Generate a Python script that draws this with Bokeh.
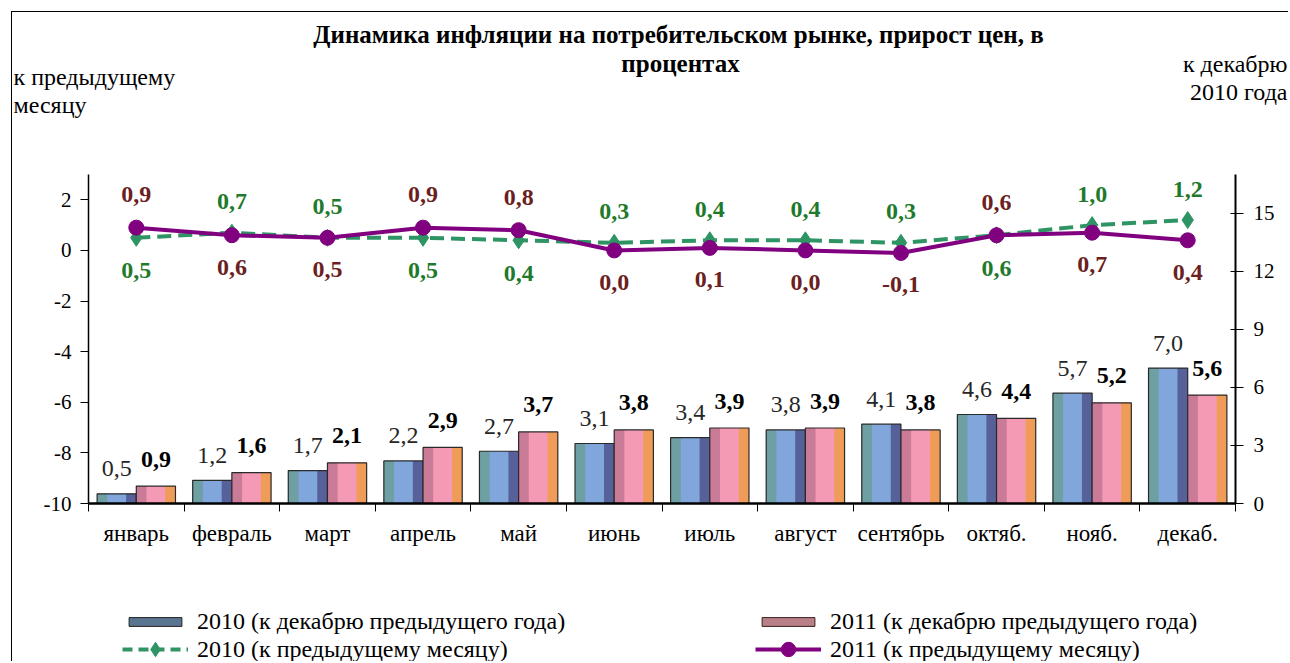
from bokeh.plotting import figure
from bokeh.layouts import column
from bokeh.models import (Range1d, LinearAxis, FixedTicker, Legend, LegendItem,
                          ColumnDataSource, CustomJSTickFormatter)
from bokeh.transform import dodge
from bokeh.core.properties import value
from bokeh.embed import file_html
from bokeh.resources import INLINE

months = ["январь", "февраль", "март", "апрель", "май", "июнь", "июль", "август",
          "сентябрь", "октяб.", "нояб.", "декаб."]
cum_2010 = [0.5, 1.2, 1.7, 2.2, 2.7, 3.1, 3.4, 3.8, 4.1, 4.6, 5.7, 7.0]
cum_2011 = [0.9, 1.6, 2.1, 2.9, 3.7, 3.8, 3.9, 3.9, 3.8, 4.4, 5.2, 5.6]
mom_2010 = [0.5, 0.7, 0.5, 0.5, 0.4, 0.3, 0.4, 0.4, 0.3, 0.6, 1.0, 1.2]
mom_2011 = [0.9, 0.6, 0.5, 0.9, 0.8, 0.0, 0.1, 0.0, -0.1, 0.6, 0.7, 0.4]
left_ticks = [-10, -8, -6, -4, -2, 0, 2]
right_ticks = [0, 3, 6, 9, 12, 15]
side_2010 = ["below", "above", "above", "below", "below", "above", "above", "above",
             "above", "below", "above", "above"]
side_2011 = ["above", "below", "below", "above", "above", "below", "below", "below",
             "below", "above", "below", "below"]
title_lines = ["Динамика инфляции на потребительском рынке, прирост цен, в", "процентах"]
left_caption = ["к предыдущему", "месяцу"]
right_caption = ["к декабрю", "2010 года"]
legend_labels = ["2010 (к декабрю предыдущего года)", "2011 (к декабрю предыдущего года)",
                 "2010 (к предыдущему месяцу)", "2011 (к предыдущему месяцу)"]

SERIF = "Liberation Serif"
GREEN = "#2e9464"
PURPLE = "#800080"
CW = 1276  # content width


def fmt(v):
    return f"{v:.1f}".replace(".", ",")


def blank_fig(h):
    f = figure(width=CW, height=h, x_range=Range1d(0, CW), y_range=Range1d(h, 0),
               x_axis_type=None, y_axis_type=None, min_border=0,
               toolbar_location=None, output_backend="svg")
    f.frame_align = False
    f.outline_line_color = None
    f.background_fill_color = "white"
    f.border_fill_color = "white"
    return f


# ---------------- header -----------------
header = blank_fig(120)
header.text(x=[666, 668], y=[22, 51], text=title_lines, text_align="center",
            text_baseline="middle", text_font=value(SERIF), text_font_size="25px",
            text_font_style="bold", text_color="black")
header.text(x=[1, 1], y=[64, 92], text=left_caption, text_align="left",
            text_baseline="middle", text_font=value(SERIF), text_font_size="24px",
            text_color="black")
header.text(x=[1275, 1275], y=[51, 79], text=right_caption, text_align="right",
            text_baseline="middle", text_font=value(SERIF), text_font_size="24px",
            text_color="black")

# ---------------- main chart -----------------
centers = [i + 0.5 for i in range(len(months))]
src = ColumnDataSource(dict(
    x=centers,
    c10=cum_2010, c11=cum_2011,
    m10=mom_2010, m11=mom_2011,
    t_c10=[fmt(v) for v in cum_2010], t_c11=[fmt(v) for v in cum_2011],
    t_m10=[fmt(v) for v in mom_2010], t_m11=[fmt(v) for v in mom_2011],
    o_m10=[-31 if s == "above" else 33 for s in side_2010],
    o_m11=[-33 if s == "above" else 32 for s in side_2011],
))

p = figure(width=CW, height=428, x_range=Range1d(0, 12), y_range=Range1d(-10, 3),
           output_backend="svg", toolbar_location=None,
           min_border_left=76, min_border_top=42, min_border_right=53, min_border_bottom=57)
p.outline_line_color = None
p.xgrid.visible = False
p.ygrid.visible = False
p.background_fill_color = "white"
p.border_fill_color = "white"

plain = CustomJSTickFormatter(code="return String(tick);")

ya = p.yaxis[0]
ya.ticker = FixedTicker(ticks=left_ticks, minor_ticks=[])
ya.formatter = plain
ya.major_tick_out = 8
ya.major_tick_in = 0
ya.minor_tick_out = 0
ya.axis_line_width = 1.5
ya.major_label_standoff = 9
ya.major_label_text_font = SERIF
ya.major_label_text_font_size = "21px"
ya.major_label_text_color = "black"

p.extra_y_ranges = {"cum": Range1d(0, 17)}
ra = LinearAxis(y_range_name="cum", ticker=FixedTicker(ticks=right_ticks, minor_ticks=[]),
                formatter=CustomJSTickFormatter(code="return String(tick);"))
ra.major_tick_out = 8
ra.major_tick_in = 5
ra.minor_tick_out = 0
ra.axis_line_width = 2
ra.major_label_standoff = 10
ra.major_label_text_font = SERIF
ra.major_label_text_font_size = "21px"
ra.major_label_text_color = "black"
p.add_layout(ra, "right")

xa = p.xaxis[0]
xa.ticker = FixedTicker(ticks=centers, minor_ticks=list(range(len(months) + 1)))
xa.formatter = CustomJSTickFormatter(args=dict(m=months), code="return m[Math.floor(tick)];")
xa.major_tick_out = 0
xa.major_tick_in = 0
xa.minor_tick_out = 8
xa.minor_tick_in = 0
xa.axis_line_width = 2.5
xa.major_label_standoff = 9
xa.major_label_text_font = SERIF
xa.major_label_text_font_size = "23px"
xa.major_label_text_color = "black"

W = 0.41
off10, off11 = -0.205, 0.205


def bevel_bar(field, off, center_col, left_col, right_col):
    p.vbar(x=dodge("x", off), top=field, bottom=0, width=W, source=src,
           y_range_name="cum", fill_color=center_col, line_color=None)
    p.vbar(x=dodge("x", off - W * 0.37), top=field, bottom=0, width=W * 0.26, source=src,
           y_range_name="cum", fill_color=left_col, line_color=None)
    p.vbar(x=dodge("x", off + W * 0.37), top=field, bottom=0, width=W * 0.26, source=src,
           y_range_name="cum", fill_color=right_col, line_color=None)
    p.vbar(x=dodge("x", off), top=field, bottom=0, width=W, source=src,
           y_range_name="cum", fill_color=None, line_color="#2a2a2a", line_width=1.2)


bevel_bar("c10", off10, "#80a6dc", "#6e9fa2", "#56619a")
bevel_bar("c11", off11, "#f59ab4", "#c97b98", "#ee9c58")

p.text(x=dodge("x", off10), y="c10", text="t_c10", source=src, y_range_name="cum",
       y_offset=-25, text_align="center", text_baseline="middle",
       text_font=value(SERIF), text_font_size="24px", text_color="#262626")
p.text(x=dodge("x", off11), y="c11", text="t_c11", source=src, y_range_name="cum",
       y_offset=-27, text_align="center", text_baseline="middle",
       text_font=value(SERIF), text_font_size="24px", text_font_style="bold",
       text_color="black")

p.line("x", "m10", source=src, line_color=GREEN, line_width=4, line_dash="14 7")
p.scatter("x", "m10", source=src, marker="diamond", size=17, color=GREEN)
p.line("x", "m11", source=src, line_color=PURPLE, line_width=4)
p.scatter("x", "m11", source=src, marker="circle", size=15, color=PURPLE)

p.text(x="x", y="m10", text="t_m10", source=src, y_offset="o_m10",
       text_align="center", text_baseline="middle",
       text_font=value(SERIF), text_font_size="24px", text_font_style="bold",
       text_color="#1f7a2c")
p.text(x="x", y="m11", text="t_m11", source=src, y_offset="o_m11",
       text_align="center", text_baseline="middle",
       text_font=value(SERIF), text_font_size="24px", text_font_style="bold",
       text_color="#6b1f22")

# ---------------- footer with legend -----------------
footer = blank_fig(101)
# legend proxies: same data, mapped to a range that lies outside the footer frame
footer.extra_y_ranges = {"off": Range1d(1000, 2000)}
fb10 = footer.vbar(x="x", top="c10", bottom=0, width=0.4, source=src, y_range_name="off",
                   fill_color="#5a7590", line_color="#222222")
fb11 = footer.vbar(x="x", top="c11", bottom=0, width=0.4, source=src, y_range_name="off",
                   fill_color="#b98088", line_color="#3a2020")
fl10 = footer.line("x", "m10", source=src, y_range_name="off",
                   line_color=GREEN, line_width=4, line_dash="10 6")
fs10 = footer.scatter("x", "m10", source=src, y_range_name="off",
                      marker="diamond", size=15, color=GREEN)
fl11 = footer.line("x", "m11", source=src, y_range_name="off",
                   line_color=PURPLE, line_width=4)
fs11 = footer.scatter("x", "m11", source=src, y_range_name="off",
                      marker="circle", size=14, color=PURPLE)

common = dict(orientation="horizontal", glyph_width=66, label_standoff=9, label_width=555,
              label_height=22, spacing=3, padding=0, margin=0, border_line_color=None,
              background_fill_alpha=0, label_text_font=SERIF, label_text_font_size="24px",
              label_text_color="black")
legend_bars = Legend(items=[
    LegendItem(label=legend_labels[0], renderers=[fb10]),
    LegendItem(label=legend_labels[1], renderers=[fb11]),
], location=(110, 26), glyph_height=11, **common)
legend_lines = Legend(items=[
    LegendItem(label=legend_labels[2], renderers=[fl10, fs10]),
    LegendItem(label=legend_labels[3], renderers=[fl11, fs11]),
], location=(110, -6), glyph_height=36, **common)
footer.add_layout(legend_bars, "center")
footer.add_layout(legend_lines, "center")

layout = column(header, p, footer, spacing=0, margin=(11, 0, 0, 11),
                styles={"border-left": "1px solid black", "border-top": "1px solid black"})

open("out.html", "w").write(file_html(layout, INLINE))
